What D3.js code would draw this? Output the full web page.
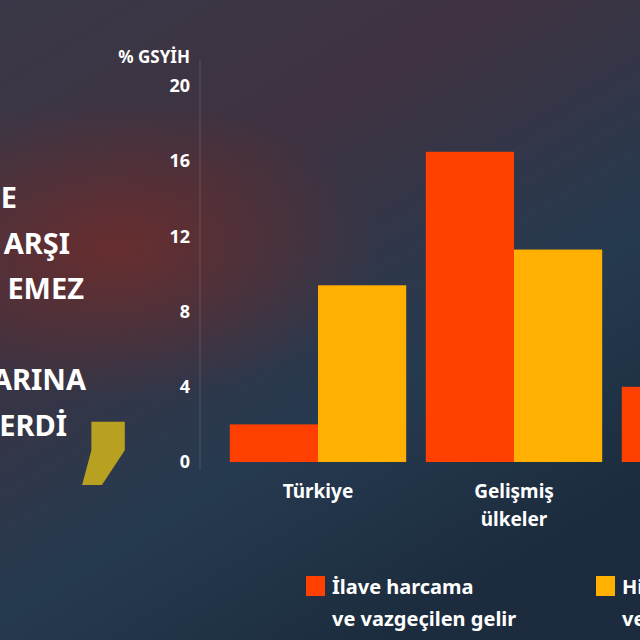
<!DOCTYPE html>
<html><head><meta charset="utf-8">
<script src="https://cdn.jsdelivr.net/npm/d3@7"></script>
<style>body{margin:0;background:#1e2c3c}svg{display:block}</style>
</head><body><div class="chart"></div>
<script>
var groups = ['Türkiye', 'Gelişmiş ülkeler', 'Gelişmekte olan ülkeler'];
var seriesNames = ['İlave harcama ve vazgeçilen gelir', 'Hisse, kredi ve garantiler'];
var spending = [2.0, 16.5, 4.0];
var equity = [9.4, 11.3, 2.5];
var yTicks = [0, 4, 8, 12, 16, 20];
var quoteLines = ['E', 'ARŞI', 'EMEZ', '', 'ARINA', 'ERDİ'];
var quoteEnds = [17, 70, 84, 0, 86, 67];

var width = 640, height = 640;
var colors = ['#ff4000', '#ffb000'];
var font = "'Noto Sans', 'Open Sans', sans-serif";

var svg = d3.select('.chart').append('svg')
  .attr('width', width).attr('height', height)
  .style('font-family', font);

// background
var defs = svg.append('defs');
var bg = defs.append('linearGradient').attr('id', 'bg')
  .attr('x1', 0).attr('y1', 0).attr('x2', 0.6).attr('y2', 1);
bg.append('stop').attr('offset', 0).attr('stop-color', '#3a3848');
bg.append('stop').attr('offset', 0.35).attr('stop-color', '#3f3240');
bg.append('stop').attr('offset', 0.7).attr('stop-color', '#263a50');
bg.append('stop').attr('offset', 1).attr('stop-color', '#1c2c3e');
svg.append('rect').attr('width', width).attr('height', height).attr('fill', 'url(#bg)');
var glow = defs.append('radialGradient').attr('id', 'glow');
glow.append('stop').attr('offset', 0).attr('stop-color', '#8a2a20').attr('stop-opacity', 0.55);
glow.append('stop').attr('offset', 1).attr('stop-color', '#8a2a20').attr('stop-opacity', 0);
svg.append('ellipse').attr('cx', 120).attr('cy', 250).attr('rx', 260).attr('ry', 150).attr('fill', 'url(#glow)');

// quote text
svg.selectAll('text.quote').data(quoteLines).enter().append('text')
  .attr('class', 'quote')
  .attr('x', function(d, i) { return quoteEnds[i]; })
  .attr('y', function(d, i) { return 208 + i * 45.5; })
  .attr('text-anchor', 'end')
  .attr('fill', '#fff').attr('font-size', 29).attr('font-weight', 700)
  .text(function(d) { return d; });
svg.append('text').attr('x', 72).attr('y', 458).attr('fill', '#b8a020')
  .attr('font-size', 190).attr('font-weight', 900).attr('font-family', "'DejaVu Sans', sans-serif").text(',');

var x0 = d3.scaleBand().domain(groups).range([220, 808]).paddingInner(0.1).paddingOuter(0.05);
var x1 = d3.scaleBand().domain([0, 1]).range([0, x0.bandwidth()]);
var y = d3.scaleLinear().domain([0, 20]).range([462, 86]);

// axis
svg.append('line').attr('x1', 200).attr('x2', 200).attr('y1', 60).attr('y2', 470)
  .attr('stroke', '#fff').attr('stroke-opacity', 0.15);
var yAxis = svg.append('g').attr('transform', 'translate(190,0)')
  .call(d3.axisLeft(y).tickValues(yTicks).tickSize(0).tickPadding(0));
yAxis.select('.domain').remove();
yAxis.selectAll('text').attr('fill', '#fff').attr('font-size', 18).attr('font-weight', 700)
  .attr('font-family', font);
svg.append('text').attr('x', 190).attr('y', 63).attr('text-anchor', 'end')
  .attr('fill', '#fff').attr('font-size', 17).attr('font-weight', 700).text('% GSYİH');

// bars
var g = svg.selectAll('g.grp').data(groups).enter().append('g')
  .attr('transform', function(d) { return 'translate(' + x0(d) + ',0)'; });
g.selectAll('rect').data(function(d, i) { return [spending[i], equity[i]]; }).enter()
  .append('rect')
  .attr('x', function(d, j) { return x1(j); })
  .attr('width', x1.bandwidth())
  .attr('y', function(d) { return y(d); })
  .attr('height', function(d) { return y(0) - y(d); })
  .attr('fill', function(d, j) { return colors[j]; });

// category labels
var words = [['Türkiye'], ['Gelişmiş', 'ülkeler'], ['Gelişmekte', 'olan ülkeler']];
g.each(function(d, i) {
  var t = d3.select(this).append('text')
    .attr('x', x0.bandwidth() / 2).attr('y', 498).attr('text-anchor', 'middle')
    .attr('fill', '#fff').attr('font-size', 19).attr('font-weight', 700);
  words[i].forEach(function(w, k) {
    t.append('tspan').attr('x', x0.bandwidth() / 2).attr('dy', k ? 28 : 0).text(w);
  });
});

// legend
var legLines = [['İlave harcama', 've vazgeçilen gelir'], ['Hisse, kredi', 've garantiler']];
var lg = svg.selectAll('g.leg').data(seriesNames).enter().append('g')
  .attr('transform', function(d, i) { return 'translate(' + (306 + i * 290) + ',576)'; });
lg.append('rect').attr('width', 19).attr('height', 20)
  .attr('fill', function(d, i) { return colors[i]; });
lg.each(function(d, i) {
  var t = d3.select(this).append('text').attr('x', 26).attr('y', 18)
    .attr('fill', '#fff').attr('font-size', 20).attr('font-weight', 700);
  legLines[i].forEach(function(w, k) {
    t.append('tspan').attr('x', 26).attr('dy', k ? 32 : 0).text(w);
  });
});
</script>
</body></html>
